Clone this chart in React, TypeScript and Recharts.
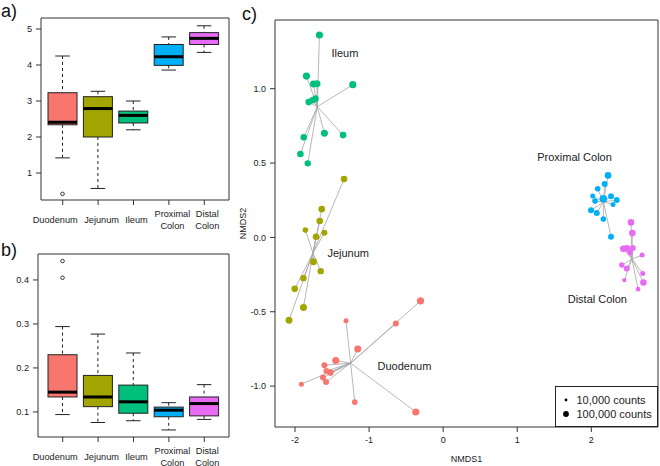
import React from 'react';
import {
  ComposedChart,
  Bar,
  XAxis,
  YAxis,
  ReferenceArea,
  ScatterChart,
  Scatter,
  ReferenceLine,
  ReferenceDot,
  Legend,
} from 'recharts';

const FONT = '"Liberation Sans", Arial, Helvetica, sans-serif';
const INK = '#222';
const FRAME = '#333';

const groups = ['Duodenum', 'Jejunum', 'Ileum', 'Proximal Colon', 'Distal Colon'];
const groupColors = ['#F8766D', '#A3A500', '#00BF7D', '#00B0F6', '#E76BF3'];
// the group names under the boxes sit a little off their tick marks
const tickShift = [-7.5, 3.5, 3, 3.5, 3];

// a) box stats per group
const aMin = [1.42, 0.57, 2.2, 3.86, 4.35];
const aQ1 = [2.34, 2.0, 2.39, 3.99, 4.57];
const aMed = [2.41, 2.79, 2.6, 4.23, 4.74];
const aQ3 = [3.23, 3.12, 2.72, 4.57, 4.9];
const aMax = [4.25, 3.27, 3.0, 4.78, 5.09];
const aOut = [[0.42], [], [], [], []];
const aTicks = [1, 2, 3, 4, 5];

// b) box stats per group
const bMin = [0.094, 0.076, 0.08, 0.059, 0.083];
const bQ1 = [0.134, 0.112, 0.097, 0.089, 0.091];
const bMed = [0.145, 0.134, 0.123, 0.104, 0.119];
const bQ3 = [0.23, 0.183, 0.161, 0.111, 0.134];
const bMax = [0.294, 0.277, 0.234, 0.121, 0.162];
const bOut = [[0.405, 0.443], [], [], [], []];
const bTicks = [0.1, 0.2, 0.3, 0.4];

// c) NMDS scores and read counts per sample
const duodenumX = [-0.306, -0.639, -1.311, -1.153, -1.45, -1.193, -1.603, -1.576, -1.522, -1.622, -1.581, -1.914, -0.369];
const duodenumY = [-0.427, -0.579, -0.561, -0.75, -0.828, -1.108, -0.859, -0.898, -0.909, -0.942, -0.972, -0.987, -1.174];
const duodenumCounts = [290000, 115000, 55000, 250000, 290000, 85000, 115000, 115000, 185000, 115000, 115000, 55000, 290000];

const jejunumX = [-1.338, -1.639, -1.666, -1.86, -1.716, -1.603, -1.751, -1.653, -1.886, -2.004, -1.886, -2.081];
const jejunumY = [0.392, 0.19, 0.11, 0.049, 0.004, 0.031, -0.164, -0.227, -0.274, -0.346, -0.471, -0.557];
const jejunumCounts = [185000, 185000, 185000, 85000, 185000, 115000, 250000, 160000, 160000, 185000, 250000, 250000];

const ileumX = [-1.67, -1.846, -1.751, -1.703, -1.22, -1.815, -1.765, -1.724, -1.882, -1.603, -1.351, -1.927, -1.828];
const ileumY = [1.361, 1.085, 1.032, 1.034, 1.027, 0.91, 0.922, 0.933, 0.673, 0.7, 0.688, 0.561, 0.498];
const ileumCounts = [290000, 290000, 250000, 250000, 290000, 185000, 160000, 185000, 185000, 250000, 185000, 185000, 160000];

const proximalX = [2.226, 2.181, 2.086, 2.019, 2.162, 2.266, 2.343, 2.05, 2.293, 1.996, 2.073, 2.162, 2.266];
const proximalY = [0.417, 0.359, 0.327, 0.278, 0.26, 0.276, 0.251, 0.244, 0.222, 0.182, 0.164, 0.123, 0.004];
const proximalCounts = [185000, 115000, 85000, 55000, 400000, 115000, 115000, 85000, 55000, 115000, 115000, 85000, 115000];

const distalX = [2.536, 2.554, 2.432, 2.478, 2.559, 2.523, 2.685, 2.411, 2.478, 2.694, 2.446, 2.703, 2.631];
const distalY = [0.101, 0.029, -0.077, -0.074, -0.072, -0.101, -0.119, -0.186, -0.209, -0.242, -0.287, -0.303, -0.348];
const distalCounts = [185000, 185000, 185000, 185000, 115000, 85000, 55000, 75000, 115000, 55000, 34000, 185000, 40000];

// where each group name sits in the ordination
const labelX = [-0.886, -1.562, -1.508, 1.27, 1.681];
const labelY = [-0.864, -0.104, 1.242, 0.538, -0.415];

const legendCounts = [10000, 100000];

const boxRows = (mins: number[], q1s: number[], meds: number[], q3s: number[], maxs: number[], outs: number[][]) =>
  groups.map((name, i) => ({
    pos: i + 1,
    name,
    range: [mins[i], maxs[i]],
    min: mins[i],
    q1: q1s[i],
    med: meds[i],
    q3: q3s[i],
    max: maxs[i],
    outliers: outs[i],
    color: groupColors[i],
  }));

const rowsA = boxRows(aMin, aQ1, aMed, aQ3, aMax, aOut);
const rowsB = boxRows(bMin, bQ1, bMed, bQ3, bMax, bOut);

const nmdsGroups = [
  { xs: duodenumX, ys: duodenumY, counts: duodenumCounts },
  { xs: jejunumX, ys: jejunumY, counts: jejunumCounts },
  { xs: ileumX, ys: ileumY, counts: ileumCounts },
  { xs: proximalX, ys: proximalY, counts: proximalCounts },
  { xs: distalX, ys: distalY, counts: distalCounts },
].map((g, i) => {
  const points = g.xs.map((x, j) => ({ x, y: g.ys[j], counts: g.counts[j] }));
  const cx = g.xs.reduce((s, v) => s + v, 0) / g.xs.length;
  const cy = g.ys.reduce((s, v) => s + v, 0) / g.ys.length;
  return { name: groups[i], color: groupColors[i], points, cx, cy };
});

const dotRadius = (counts: number) => 1.4 + 1.5 * (Math.log10(counts) - 4);

const BoxShape = (props: any) => {
  const { x, y, width, height, payload } = props;
  const { min, max, q1, med, q3, outliers, color } = payload;
  const top = Math.min(y, y + height);
  const h = Math.abs(height);
  // linear scale, so values between whisker ends can be placed from the bar's own pixels
  const toPx = (v: number) => top + ((max - v) / (max - min)) * h;
  const mid = x + width / 2;
  const cap = width / 4;
  return (
    <g>
      <line x1={mid} x2={mid} y1={toPx(max)} y2={toPx(q3)} stroke={INK} strokeDasharray="3 3" />
      <line x1={mid} x2={mid} y1={toPx(q1)} y2={toPx(min)} stroke={INK} strokeDasharray="3 3" />
      <line x1={mid - cap} x2={mid + cap} y1={toPx(max)} y2={toPx(max)} stroke={INK} />
      <line x1={mid - cap} x2={mid + cap} y1={toPx(min)} y2={toPx(min)} stroke={INK} />
      <rect x={x} y={toPx(q3)} width={width} height={toPx(q1) - toPx(q3)} fill={color} stroke={INK} />
      <line x1={x} x2={x + width} y1={toPx(med)} y2={toPx(med)} stroke="#000" strokeWidth={3} />
      {outliers.map((o: number) => (
        <circle key={o} cx={mid} cy={toPx(o)} r={1.8} fill="#fff" stroke={INK} strokeWidth={0.9} />
      ))}
    </g>
  );
};

const GroupTick = (props: any) => {
  const { x, y, payload } = props;
  const i = payload.value - 1;
  const lines = groups[i].split(' ');
  const offsets = lines.length > 1 ? [10, 21.5] : [15.5];
  const tx = x + tickShift[i];
  return (
    <text textAnchor="middle" fontSize={9.2} fill={INK}>
      {lines.map((l, k) => (
        <tspan key={l} x={tx} y={y + offsets[k]}>
          {l}
        </tspan>
      ))}
    </text>
  );
};

function BoxPanel({ rows, left, top, height, marginTop, xAxisHeight, yWidth, xDomain, yDomain, yTicks, fmt }: any) {
  return (
    <div style={{ position: 'absolute', left, top }}>
      <ComposedChart width={235} height={height} data={rows} margin={{ top: marginTop, right: 6, left: 0, bottom: 0 }}>
        <XAxis
          dataKey="pos"
          type="number"
          domain={xDomain}
          ticks={[1, 2, 3, 4, 5]}
          interval={0}
          tick={<GroupTick />}
          tickSize={5}
          tickMargin={2}
          axisLine={false}
          tickLine={{ stroke: FRAME }}
          height={xAxisHeight}
        />
        <YAxis
          type="number"
          domain={yDomain}
          ticks={yTicks}
          interval={0}
          tickFormatter={fmt}
          width={yWidth}
          tickSize={5}
          tickMargin={4}
          axisLine={false}
          tickLine={{ stroke: FRAME }}
          tick={{ fontSize: 9.2, fill: INK }}
        />
        <ReferenceArea
          x1={xDomain[0]}
          x2={xDomain[1]}
          y1={yDomain[0]}
          y2={yDomain[1]}
          fill="none"
          stroke={FRAME}
          strokeWidth={1}
          fillOpacity={0}
        />
        <Bar dataKey="range" barSize={29} shape={<BoxShape />} isAnimationActive={false} />
      </ComposedChart>
    </div>
  );
}

const CountsLegend = () => (
  <svg width={103} height={41} style={{ display: 'block', border: `1px solid ${INK}`, boxSizing: 'border-box', background: '#fff' }}>
    {legendCounts.map((c, i) => (
      <g key={c}>
        <circle cx={10} cy={13 + i * 14} r={dotRadius(c)} fill="#000" />
        <text x={20.5} y={13 + i * 14} dy="0.36em" fontSize={11} fill={INK}>
          {c.toLocaleString('en-US')} counts
        </text>
      </g>
    ))}
  </svg>
);

const cXDomain = [-2.27, 2.9];
const cYDomain = [-1.275, 1.462];

export default function App() {
  return (
    <div style={{ position: 'absolute', left: 0, top: 0, width: 660, height: 466, background: '#fff', fontFamily: FONT }}>
      <BoxPanel
        rows={rowsA}
        left={0}
        top={0}
        height={235}
        marginTop={18}
        xAxisHeight={35}
        yWidth={41}
        xDomain={[0.387, 5.698]}
        yDomain={[0.25, 5.306]}
        yTicks={aTicks}
        fmt={(v: number) => String(v)}
      />
      <BoxPanel
        rows={rowsB}
        left={0}
        top={230}
        height={236}
        marginTop={24}
        xAxisHeight={29}
        yWidth={38}
        xDomain={[0.302, 5.698]}
        yDomain={[0.043, 0.459]}
        yTicks={bTicks}
        fmt={(v: number) => v.toFixed(1)}
      />

      <div style={{ position: 'absolute', left: 230, top: 0 }}>
        <ScatterChart width={430} height={466} margin={{ top: 20, right: 2, left: 0, bottom: 0 }}>
          <XAxis
            type="number"
            dataKey="x"
            domain={cXDomain}
            ticks={[-2, -1, 0, 1, 2]}
            interval={0}
            height={39}
            tickSize={5}
            tickMargin={5}
            axisLine={false}
            tickLine={{ stroke: FRAME }}
            tick={{ fontSize: 9, fill: INK }}
            label={{ value: 'NMDS1', position: 'insideBottom', offset: 4.5, fontSize: 9, fill: INK }}
          />
          <YAxis
            type="number"
            dataKey="y"
            domain={cYDomain}
            ticks={[-1, -0.5, 0, 0.5, 1]}
            interval={0}
            tickFormatter={(v: number) => v.toFixed(1)}
            width={45}
            tickSize={5}
            tickMargin={4}
            axisLine={false}
            tickLine={{ stroke: FRAME }}
            tick={{ fontSize: 9, fill: INK }}
            label={{
              value: 'NMDS2',
              angle: -90,
              position: 'insideLeft',
              offset: 13,
              fontSize: 9,
              fill: INK,
              style: { textAnchor: 'middle' },
            }}
          />
          <ReferenceArea
            x1={cXDomain[0]}
            x2={cXDomain[1]}
            y1={cYDomain[0]}
            y2={cYDomain[1]}
            fill="none"
            fillOpacity={0}
            stroke={FRAME}
            strokeWidth={1}
          />
          {nmdsGroups.map((g) =>
            g.points.map((p, j) => (
              <ReferenceLine
                key={`${g.name}-${j}`}
                segment={[
                  { x: g.cx, y: g.cy },
                  { x: p.x, y: p.y },
                ]}
                stroke="#a6a6a6"
                strokeWidth={0.8}
              />
            ))
          )}
          {nmdsGroups.map((g) => (
            <Scatter
              key={g.name}
              name={g.name}
              data={g.points}
              isAnimationActive={false}
              shape={(p: any) => <circle cx={p.cx} cy={p.cy} r={dotRadius(p.payload.counts)} fill={g.color} />}
            />
          ))}
          {groups.map((name, i) => (
            <ReferenceDot
              key={name}
              x={labelX[i]}
              y={labelY[i]}
              r={0}
              fill="none"
              stroke="none"
              label={{ value: name, position: 'right', offset: 0, fontSize: 11, fill: INK }}
            />
          ))}
          <Legend
            layout="horizontal"
            verticalAlign="middle"
            align="center"
            wrapperStyle={{ left: 325, top: 386, width: 103, height: 41 }}
            content={() => <CountsLegend />}
          />
        </ScatterChart>
      </div>

      <svg width={660} height={466} style={{ position: 'absolute', left: 0, top: 0, pointerEvents: 'none' }}>
        <text x={1} y={17} fontSize={18} fill="#111">a)</text>
        <text x={1} y={256} fontSize={18} fill="#111">b)</text>
        <text x={242} y={19.5} fontSize={18} fill="#111">c)</text>
      </svg>
    </div>
  );
}
